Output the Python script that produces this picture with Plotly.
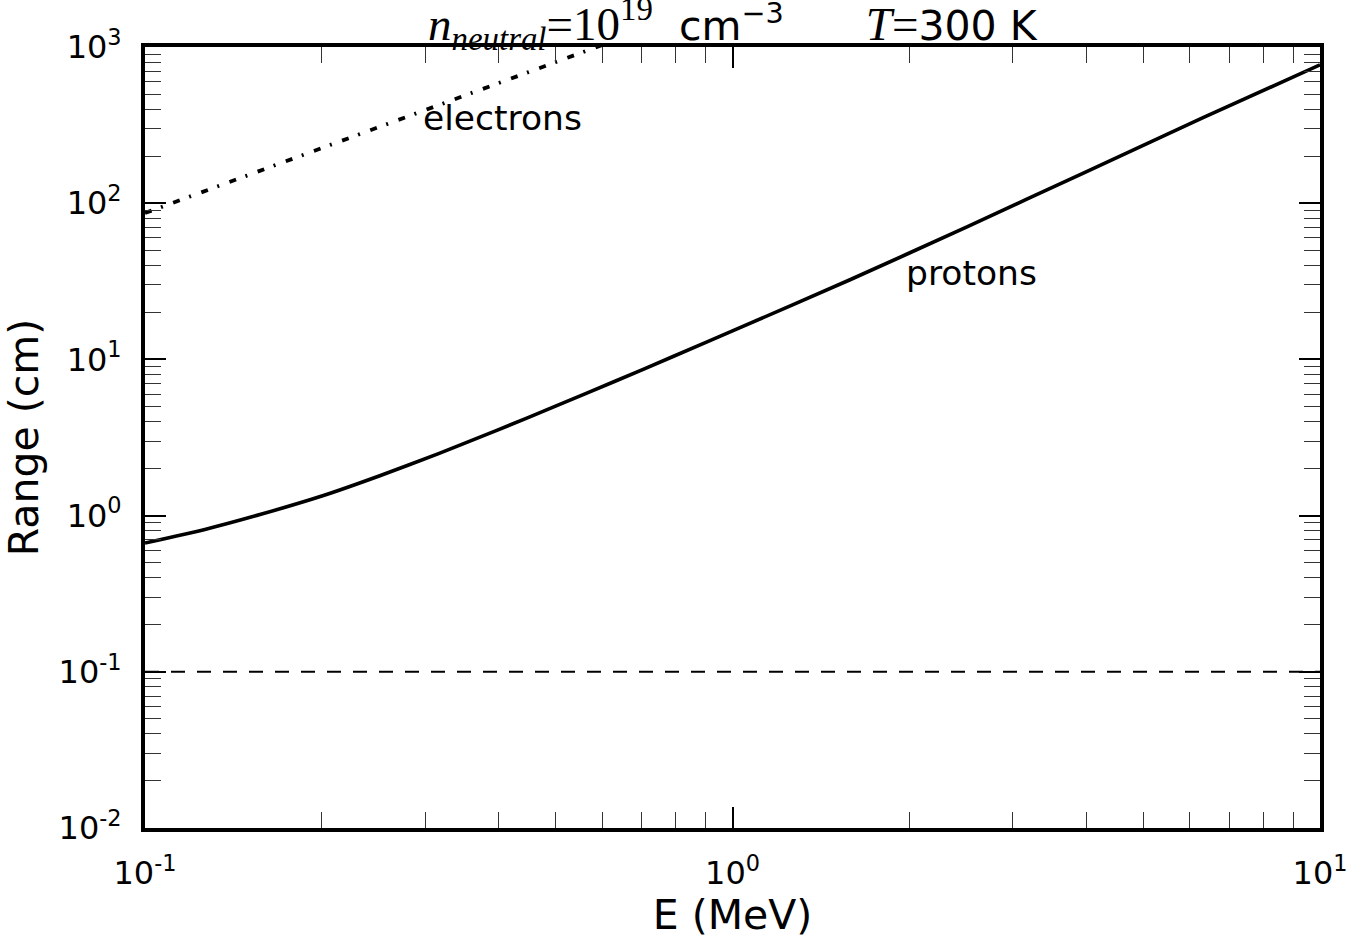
import plotly.graph_objects as go

# Proton range vs. energy
proton_E = [0.1, 0.126, 0.158, 0.2, 0.251, 0.316, 0.398, 0.501, 0.631, 0.794,
            1.0, 1.585, 2.512, 3.981, 6.310, 10.0]
proton_R = [0.668, 0.813, 1.023, 1.334, 1.799, 2.495, 3.524, 5.035, 7.244, 10.47,
            15.21, 32.36, 70.8, 157.8, 351.6, 769.1]

# Electron range vs. energy (runs off the top of the frame)
electron_E = [0.1, 0.2, 0.4, 0.7]
electron_R = [86.5, 225.0, 588.0, 1274.0]

# Reference range level
ref_E = [0.1, 10.0]
ref_R = [0.1, 0.1]

x_ticks = [0.1, 1, 10]
x_ticktext = ["10<sup>-1</sup>", "10<sup>0</sup>", "10<sup>1</sup>"]
y_ticks = [0.01, 0.1, 1, 10, 100, 1000]
y_ticktext = ["10<sup>-2</sup>", "10<sup>-1</sup>", "10<sup>0</sup>",
              "10<sup>1</sup>", "10<sup>2</sup>", "10<sup>3</sup>"]

x_minor = [d * k for d in [0.1, 1] for k in range(2, 10)]
y_minor = [d * k for d in [0.01, 0.1, 1, 10, 100] for k in range(2, 10)]

FONT = "DejaVu Sans"

fig = go.Figure()
fig.add_trace(go.Scatter(x=proton_E, y=proton_R, mode="lines",
                         line=dict(color="black", width=3.6, shape="spline", smoothing=0.5)))
fig.add_trace(go.Scatter(x=electron_E, y=electron_R, mode="lines",
                         line=dict(color="black", width=3.8, dash="7px,10px,2px,11px")))
fig.add_trace(go.Scatter(x=ref_E, y=ref_R, mode="lines",
                         line=dict(color="black", width=2, dash="14px,12px")))

axis_common = dict(
    type="log", showgrid=False, zeroline=False, automargin=False,
    showline=True, linewidth=4, linecolor="black", mirror="allticks",
    ticks="inside", ticklen=21, tickwidth=1.5, tickcolor="black",
    tickfont=dict(family=FONT, size=32, color="black"),
)

fig.update_xaxes(
    **axis_common, range=[-1, 1], tickmode="array", tickvals=x_ticks, ticktext=x_ticktext,
    minor=dict(ticks="inside", ticklen=16, tickwidth=1.3, tickcolor="#333",
               tickmode="array", tickvals=x_minor, showgrid=False),
    title=dict(text="E (MeV)", font=dict(family=FONT, size=41, color="black"), standoff=16),
    ticklabelstandoff=14,
)
fig.update_yaxes(
    **axis_common, range=[-2, 3], tickmode="array", tickvals=y_ticks, ticktext=y_ticktext,
    minor=dict(ticks="inside", ticklen=16, tickwidth=1.3, tickcolor="#333",
               tickmode="array", tickvals=y_minor, showgrid=False),
    title=dict(text="Range (cm)", font=dict(family=FONT, size=41, color="black"), standoff=21),
    ticklabelstandoff=13,
)

SERIF = "font-family:Liberation Serif;font-size:47px"
title_text = (
    f'<span style="{SERIF}"><i>n</i><sub><i>neutral</i></sub>=10<sup>19</sup></span>'
    '  cm<sup>−3</sup>'
    '\u2003\u2003'
    f'<span style="{SERIF}"><i>T</i>=</span>300 K'
)

fig.add_annotation(text=title_text, xref="paper", yref="paper", x=0.5, y=1,
                   xanchor="center", yanchor="bottom", yshift=-12, showarrow=False,
                   font=dict(family=FONT, size=41, color="black"))
fig.add_annotation(text="electrons", x=-0.392, y=2.545, xref="x", yref="y",
                   showarrow=False, font=dict(family=FONT, size=34.5, color="black"))
fig.add_annotation(text="protons", x=0.406, y=1.553, xref="x", yref="y",
                   showarrow=False, font=dict(family=FONT, size=34.5, color="black"))

fig.update_layout(
    width=1349, height=939,
    margin=dict(l=145, r=29, t=47, b=111),
    paper_bgcolor="white", plot_bgcolor="white",
    showlegend=False,
)

fig.write_html("out.html")
